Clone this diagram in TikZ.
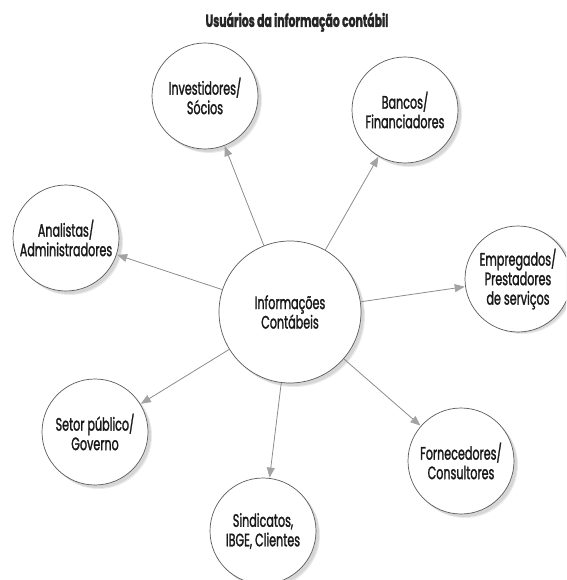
\documentclass[tikz,border=0pt]{standalone}
\usepackage{fontspec}
\setmainfont{Poppins}[FakeStretch=0.62,FakeBold=1.4]
\usetikzlibrary{arrows.meta}
\definecolor{linegray}{HTML}{8C8C8C}
\definecolor{rimgray}{HTML}{5A5A5A}
\definecolor{shadowgray}{HTML}{D6D6D6}
\tikzset{
  user/.style={circle, draw=rimgray, line width=0.7pt, fill=white, minimum size=106pt,
    inner sep=0pt, align=center, font=\fontsize{18}{19.5}\selectfont, text=black!90},
  hub/.style={user, minimum size=142pt},
  conn/.style={draw=linegray, line width=0.8pt,
    -{Triangle[length=10pt,width=8pt,fill=linegray!80,color=linegray!80]}, shorten >=0.5pt},
  shadowc/.style={circle, fill=shadowgray, draw=none, inner sep=0pt}
}
\begin{document}
\begin{tikzpicture}[x=1pt,y=-1pt]
\useasboundingbox (0,0) rectangle (566,580);
\clip (0,0) rectangle (566,580);
% shadows
\foreach \p/\s in {{205,96}/106,{405,110}/106,{66,238}/106,{518,277}/106,{95,432}/106,{461,461}/106,{263,531}/106,{290,312}/142}{
  \path (\p) ++(4,4) node[shadowc, minimum size=\s pt, opacity=0.5] {};
  \path (\p) ++(3,3) node[shadowc, minimum size=\s pt] {};
}
\node[font=\bfseries\fontsize{17.5}{19}\selectfont, text=black!85] (title) at (297,22) {Usuários da informação contábil};
\node[hub]  (c)  at (290,312) {Informações\\Contábeis};
\node[user] (inv) at (205,96)  {Investidores/\\Sócios};
\node[user] (ban) at (405,110) {Bancos/\\Financiadores};
\node[user] (ana) at (66,238)  {Analistas/\\Administradores};
\node[user] (emp) at (518,279) {Empregados/\\Prestadores\\de serviços};
\node[user] (set) at (95,432)  {Setor público/\\Governo};
\node[user] (for) at (461,461) {Fornecedores/\\Consultores};
\node[user] (sin) at (263,531) {Sindicatos,\\IBGE, Clientes};
\foreach \t in {inv,ban,ana,emp,set,for,sin}{
  \draw[conn] (c) -- (\t);
}
\end{tikzpicture}
\end{document}
